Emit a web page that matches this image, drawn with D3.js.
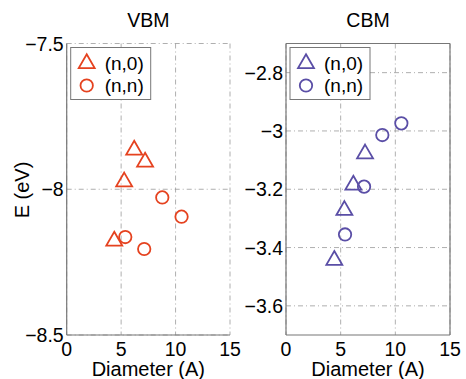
<!DOCTYPE html>
<html>
<head>
<meta charset="utf-8">
<script src="https://cdn.jsdelivr.net/npm/d3@7"></script>
<style>
  body { margin: 0; background: #fff; }
  svg { display: block; font-family: "Liberation Sans", Arial, sans-serif; }
</style>
</head>
<body>
<svg id="chart" width="466" height="379"></svg>
<script>
// VBM panel, (n,0) and (n,n) tubes
var vbmZigzagD = [6.2, 7.2, 5.28, 4.37];
var vbmZigzagE = [-7.862, -7.903, -7.971, -8.174];
var vbmArmchairD = [8.78, 10.55, 5.38, 7.12];
var vbmArmchairE = [-8.028, -8.094, -8.164, -8.205];

// CBM panel
var cbmZigzagD = [7.23, 6.16, 5.34, 4.42];
var cbmZigzagE = [-3.075, -3.182, -3.269, -3.44];
var cbmArmchairD = [10.55, 8.81, 7.14, 5.40];
var cbmArmchairE = [-2.974, -3.014, -3.191, -3.355];

var xTicks = [0, 5, 10, 15];
var vbmYTicks = [-7.5, -8, -8.5];
var cbmYTicks = [-2.8, -3, -3.2, -3.4, -3.6];
var legendLabels = ["(n,0)", "(n,n)"];

var svg = d3.select("#chart");
var fmt = function(d) { return String(d).replace("-", "\u2212"); };

function panel(opts) {
    var x = d3.scaleLinear().domain([0, 15]).range([opts.left, opts.right]);
    var y = d3.scaleLinear().domain(opts.yDomain).range([opts.bottom, opts.top]);
    var g = svg.append("g");

    // grid (dash-dot)
    g.selectAll(".gx").data(xTicks).enter().append("line")
        .attr("x1", function(d) { return x(d); }).attr("x2", function(d) { return x(d); })
        .attr("y1", opts.top).attr("y2", opts.bottom)
        .attr("stroke", "#9a9a9a").attr("stroke-width", 0.8)
        .attr("stroke-dasharray", "5,3,1,3");
    g.selectAll(".gy").data(opts.yTicks).enter().append("line")
        .attr("y1", function(d) { return y(d); }).attr("y2", function(d) { return y(d); })
        .attr("x1", opts.left).attr("x2", opts.right)
        .attr("stroke", "#9a9a9a").attr("stroke-width", 0.8)
        .attr("stroke-dasharray", "5,3,1,3");

    // axes lines
    var ax = g.append("g").attr("stroke", "#777").attr("stroke-width", 1.2);
    ax.append("line").attr("x1", opts.left).attr("x2", opts.left).attr("y1", opts.top).attr("y2", opts.bottom);
    ax.append("line").attr("x1", opts.left).attr("x2", opts.right).attr("y1", opts.bottom).attr("y2", opts.bottom);
    if (opts.box) {
        ax.append("line").attr("x1", opts.left).attr("x2", opts.right).attr("y1", opts.top).attr("y2", opts.top);
        ax.append("line").attr("x1", opts.right).attr("x2", opts.right).attr("y1", opts.top).attr("y2", opts.bottom);
    }

    // tick labels
    g.selectAll(".tx").data(xTicks).enter().append("text")
        .attr("x", function(d) { return x(d); }).attr("y", opts.bottom + 21)
        .attr("text-anchor", "middle").attr("font-size", 19.5).text(function(d) { return d; });
    g.selectAll(".ty").data(opts.yTicks).enter().append("text")
        .attr("x", opts.left - 3).attr("y", function(d) { return y(d) + 7; })
        .attr("text-anchor", "end").attr("font-size", 19.5).text(fmt);

    // titles
    g.append("text").attr("x", (opts.left + opts.right) / 2).attr("y", 27)
        .attr("text-anchor", "middle").attr("font-size", 19.5).text(opts.title);
    g.append("text").attr("x", (opts.left + opts.right) / 2).attr("y", 376)
        .attr("text-anchor", "middle").attr("font-size", 20).text("Diameter (A)");

    // markers
    var tri = d3.symbol().type(d3.symbolTriangle).size(110);
    var zig = opts.zigD.map(function(d, i) { return [d, opts.zigE[i]]; });
    var arm = opts.armD.map(function(d, i) { return [d, opts.armE[i]]; });
    g.selectAll(".tri").data(zig).enter().append("path")
        .attr("d", tri)
        .attr("transform", function(d) { return "translate(" + x(d[0]) + "," + (y(d[1]) + 1) + ")"; })
        .attr("fill", "none").attr("stroke", opts.color).attr("stroke-width", 1.8);
    g.selectAll(".circ").data(arm).enter().append("circle")
        .attr("cx", function(d) { return x(d[0]); }).attr("cy", function(d) { return y(d[1]); })
        .attr("r", 6.2)
        .attr("fill", "none").attr("stroke", opts.color).attr("stroke-width", 1.8);

    // legend
    var lg = g.append("g").attr("transform", "translate(" + (opts.left + 4) + "," + (opts.top + 4) + ")");
    lg.append("rect").attr("width", 80).attr("height", 52)
        .attr("fill", "#fff").attr("stroke", "#777").attr("stroke-width", 1);
    lg.append("path").attr("d", tri).attr("transform", "translate(16,16)")
        .attr("fill", "none").attr("stroke", opts.color).attr("stroke-width", 1.8);
    lg.append("circle").attr("cx", 16).attr("cy", 38).attr("r", 6.2)
        .attr("fill", "none").attr("stroke", opts.color).attr("stroke-width", 1.8);
    lg.selectAll(".lt").data(legendLabels).enter().append("text")
        .attr("x", 34).attr("y", function(d, i) { return 22 + i * 22; })
        .attr("font-size", 19).text(function(d) { return d; });
}

panel({ left: 66.7, right: 230, top: 43.5, bottom: 335, yDomain: [-8.5, -7.5], yTicks: vbmYTicks,
        title: "VBM", color: "#e5421f", box: false,
        zigD: vbmZigzagD, zigE: vbmZigzagE, armD: vbmArmchairD, armE: vbmArmchairE });
panel({ left: 286, right: 450, top: 43.5, bottom: 335, yDomain: [-3.7, -2.7], yTicks: cbmYTicks,
        title: "CBM", color: "#5a4ea6", box: true,
        zigD: cbmZigzagD, zigE: cbmZigzagE, armD: cbmArmchairD, armE: cbmArmchairE });

svg.append("text").attr("transform", "translate(29,190) rotate(-90)")
    .attr("text-anchor", "middle").attr("font-size", 20).text("E (eV)");
</script>
</body>
</html>
